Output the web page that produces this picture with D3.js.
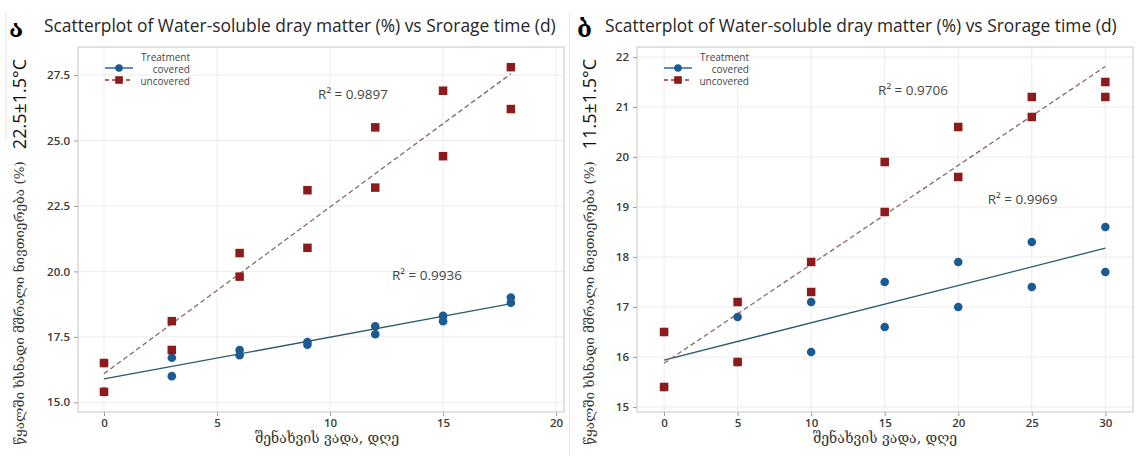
<!DOCTYPE html>
<html><head><meta charset="utf-8">
<script src="https://cdn.jsdelivr.net/npm/d3@7/dist/d3.min.js"></script>
<style>
html,body{margin:0;padding:0;background:#fff;}
svg{display:block;}
</style></head>
<body>
<svg id="c" width="1136" height="461"></svg>
<script>
// ---------- DATA ----------
const titleText = "Scatterplot of Water-soluble dray matter (%) vs Srorage time (d)";
const panelLetters = ["ა", "ბ"];
const temperatures = ["22.5±1.5°C", "11.5±1.5°C"];
const yAxisLabel = "წყალში ხსნადი მშრალი ნივთიერება (%)";
const xAxisLabel = "შენახვის ვადა, დღე";
const legendTitle = "Treatment";
const seriesNames = ["covered", "uncovered"];

// Panel ა (22.5°C)
const daysA = [0, 3, 6, 9, 12, 15, 18];
const coveredA_rep1 = [16.5, 16.7, 17.0, 17.3, 17.9, 18.3, 19.0];
const coveredA_rep2 = [15.4, 16.0, 16.8, 17.2, 17.6, 18.1, 18.8];
const uncoveredA_rep1 = [16.5, 18.1, 20.7, 23.1, 25.5, 26.9, 27.8];
const uncoveredA_rep2 = [15.4, 17.0, 19.8, 20.9, 23.2, 24.4, 26.2];
const xTicksA = [0, 5, 10, 15, 20];
const yTicksA = [15.0, 17.5, 20.0, 22.5, 25.0, 27.5];
const r2LabelsA = ["R² = 0.9897", "R² = 0.9936"]; // uncovered, covered
const r2AnchorsA = [[9.47, 26.77], [12.74, 19.86]];

// Panel ბ (11.5°C)
const daysB = [0, 5, 10, 15, 20, 25, 30];
const coveredB_rep1 = [16.5, 16.8, 17.1, 17.5, 17.9, 18.3, 18.6];
const coveredB_rep2 = [15.4, 15.9, 16.1, 16.6, 17.0, 17.4, 17.7];
const uncoveredB_rep1 = [16.5, 17.1, 17.9, 19.9, 20.6, 21.2, 21.5];
const uncoveredB_rep2 = [15.4, 15.9, 17.3, 18.9, 19.6, 20.8, 21.2];
const xTicksB = [0, 5, 10, 15, 20, 25, 30];
const yTicksB = [15, 16, 17, 18, 19, 20, 21, 22];
const r2LabelsB = ["R² = 0.9706", "R² = 0.9969"];
const r2AnchorsB = [[14.55, 21.33], [22.0, 19.15]];

// ---------- STYLE ----------
const C_COV_PT = "#1b5b94";
const C_COV_LN = "#2a5a66";
const C_UNC_PT = "#8c1c1c";
const C_UNC_LN = "#8a6868";
const C_FRAME = "#cfcfcf";
const C_GRID = "#ececec";
const C_TICK = "#3a3a3a";
const SANS = "'Open Sans', 'Noto Sans', 'DejaVu Sans', sans-serif";
const GEO = "'DejaVu Serif', 'DejaVu Sans', serif";

const svg = d3.select("#c");

// faint page-edge lines from the composed figure
svg.append("line").attr("x1", 6).attr("x2", 6).attr("y1", 12).attr("y2", 138)
  .attr("stroke", "#e2e2e2").attr("stroke-width", 1);
svg.append("line").attr("x1", 569.5).attr("x2", 569.5).attr("y1", 12).attr("y2", 455)
  .attr("stroke", "#e6e6e6").attr("stroke-width", 1);

function fit(xs, ys) {
  const mx = d3.mean(xs), my = d3.mean(ys);
  let sxy = 0, sxx = 0;
  xs.forEach((x, i) => { sxy += (x - mx) * (ys[i] - my); sxx += (x - mx) * (x - mx); });
  const b = sxy / sxx;
  return { a: my - b * mx, b };
}

function panel(cfg) {
  const g = svg.append("g");
  const { L, T, R, B } = cfg.frame;
  const x = d3.scaleLinear().domain(cfg.xDom).range([L, R]);
  const y = d3.scaleLinear().domain(cfg.yDom).range([B, T]);

  // grid
  g.append("g").selectAll("line").data(cfg.xTicks).join("line")
    .attr("x1", d => x(d)).attr("x2", d => x(d)).attr("y1", T).attr("y2", B)
    .attr("stroke", C_GRID).attr("stroke-width", 1);
  g.append("g").selectAll("line").data(cfg.yTicks).join("line")
    .attr("y1", d => y(d)).attr("y2", d => y(d)).attr("x1", L).attr("x2", R)
    .attr("stroke", C_GRID).attr("stroke-width", 1);

  // axes
  const xa = g.append("g").attr("transform", `translate(0,${B})`)
    .call(d3.axisBottom(x).tickValues(cfg.xTicks).tickSize(4).tickPadding(3).tickFormat(d3.format("d")));
  const ya = g.append("g").attr("transform", `translate(${L},0)`)
    .call(d3.axisLeft(y).tickValues(cfg.yTicks).tickSize(4).tickPadding(4).tickFormat(d3.format(cfg.yFmt)));
  [xa, ya].forEach(a => {
    a.select(".domain").remove();
    a.selectAll(".tick line").attr("stroke", "#999");
    a.selectAll(".tick text").attr("fill", C_TICK).style("font-family", SANS)
      .style("font-size", "11.5px").style("font-weight", "600");
  });

  // frame
  g.append("rect").attr("x", L).attr("y", T).attr("width", R - L).attr("height", B - T)
    .attr("fill", "none").attr("stroke", C_FRAME).attr("stroke-width", 1.2);

  // regression lines
  const allX = cfg.days.concat(cfg.days);
  const cov = cfg.cov[0].concat(cfg.cov[1]);
  const unc = cfg.unc[0].concat(cfg.unc[1]);
  const fc = fit(allX, cov), fu = fit(allX, unc);
  const x0 = d3.min(cfg.days), x1 = d3.max(cfg.days);
  g.append("line").attr("x1", x(x0)).attr("x2", x(x1))
    .attr("y1", y(fc.a + fc.b * x0)).attr("y2", y(fc.a + fc.b * x1))
    .attr("stroke", C_COV_LN).attr("stroke-width", 1.3);
  g.append("line").attr("x1", x(x0)).attr("x2", x(x1))
    .attr("y1", y(fu.a + fu.b * x0)).attr("y2", y(fu.a + fu.b * x1))
    .attr("stroke", C_UNC_LN).attr("stroke-width", 1.3).attr("stroke-dasharray", "5,3");

  // points: covered circles then uncovered squares
  const covPts = [], uncPts = [];
  cfg.days.forEach((d, i) => {
    covPts.push([d, cfg.cov[0][i]], [d, cfg.cov[1][i]]);
    uncPts.push([d, cfg.unc[0][i]], [d, cfg.unc[1][i]]);
  });
  g.append("g").selectAll("circle").data(covPts).join("circle")
    .attr("cx", d => x(d[0])).attr("cy", d => y(d[1])).attr("r", 4.3).attr("fill", C_COV_PT);
  const s = 8.5;
  g.append("g").selectAll("rect").data(uncPts).join("rect")
    .attr("x", d => x(d[0]) - s / 2).attr("y", d => y(d[1]) - s / 2)
    .attr("width", s).attr("height", s).attr("fill", C_UNC_PT);

  // R² labels
  cfg.r2.forEach((t, i) => {
    const a = cfg.r2At[i];
    g.append("text").attr("x", x(a[0])).attr("y", y(a[1])).attr("dy", "0.35em")
      .attr("fill", "#444").style("font-family", SANS).style("font-size", "13.5px").text(t);
  });

  // legend
  const lg = g.append("g").attr("transform", `translate(${L},${T})`);
  lg.append("text").attr("x", 112).attr("y", 10).attr("dy", "0.35em").attr("text-anchor", "end")
    .attr("fill", "#444").style("font-family", SANS).style("font-size", "10px").text(legendTitle);
  lg.append("line").attr("x1", 27).attr("x2", 55).attr("y1", 21).attr("y2", 21)
    .attr("stroke", "#2a6aa0").attr("stroke-width", 1.5);
  lg.append("circle").attr("cx", 41).attr("cy", 21).attr("r", 3.8).attr("fill", C_COV_PT);
  lg.append("text").attr("x", 112).attr("y", 22).attr("dy", "0.35em").attr("text-anchor", "end")
    .attr("fill", "#444").style("font-family", SANS).style("font-size", "10px").text(seriesNames[0]);
  lg.append("line").attr("x1", 27).attr("x2", 55).attr("y1", 33).attr("y2", 33)
    .attr("stroke", "#a03030").attr("stroke-width", 1.5).attr("stroke-dasharray", "4,3");
  lg.append("rect").attr("x", 41 - 3.8).attr("y", 33 - 3.8).attr("width", 7.6).attr("height", 7.6).attr("fill", C_UNC_PT);
  lg.append("text").attr("x", 112).attr("y", 34).attr("dy", "0.35em").attr("text-anchor", "end")
    .attr("fill", "#444").style("font-family", SANS).style("font-size", "10px").text(seriesNames[1]);

  // title — font size fitted so the natural width is ~512px
  const tt = g.append("text").attr("x", cfg.titleX).attr("y", 32).attr("fill", "#262626")
    .style("font-family", SANS).style("font-size", "19px").style("font-weight", "500").text(titleText);
  const w = tt.node().getComputedTextLength();
  tt.style("font-size", (19 * 512 / w).toFixed(2) + "px");
  // panel letter
  g.append("text").attr("x", cfg.letterX).attr("y", 37).attr("fill", "#000")
    .style("font-family", GEO).style("font-size", "24px").style("font-weight", "bold").text(cfg.letter);

  // temperature (rotated)
  g.append("text").attr("transform", `translate(${cfg.sideX},104) rotate(-90)`)
    .attr("text-anchor", "middle").attr("dy", "0.35em").attr("fill", "#111")
    .style("font-family", SANS).style("font-size", "18px").text(cfg.temp);
  // y label
  g.append("text").attr("transform", `translate(${cfg.sideX - 1},${cfg.yLabelY}) rotate(-90)`)
    .attr("text-anchor", "middle").attr("dy", "0.35em").attr("fill", "#333")
    .style("font-family", GEO).style("font-size", "13.5px").text(yAxisLabel);
  // x label
  g.append("text").attr("x", (L + R) / 2 + cfg.xLabelShift).attr("y", 443)
    .attr("text-anchor", "middle").attr("fill", "#333")
    .style("font-family", GEO).style("font-size", "14px").text(xAxisLabel);
}

panel({
  frame: { L: 78, T: 47, R: 564, B: 412 },
  xDom: [-1.15, 20.35], yDom: [14.63, 28.57],
  xTicks: xTicksA, yTicks: yTicksA, yFmt: ".1f",
  days: daysA, cov: [coveredA_rep1, coveredA_rep2], unc: [uncoveredA_rep1, uncoveredA_rep2],
  r2: r2LabelsA, r2At: r2AnchorsA,
  titleX: 44, letterX: 9, letter: panelLetters[0], temp: temperatures[0],
  sideX: 20, yLabelY: 303, xLabelShift: 6
});
panel({
  frame: { L: 637, T: 47, R: 1133, B: 412 },
  xDom: [-1.84, 31.88], yDom: [14.9, 22.2],
  xTicks: xTicksB, yTicks: yTicksB, yFmt: "d",
  days: daysB, cov: [coveredB_rep1, coveredB_rep2], unc: [uncoveredB_rep1, uncoveredB_rep2],
  r2: r2LabelsB, r2At: r2AnchorsB,
  titleX: 605, letterX: 577, letter: panelLetters[1], temp: temperatures[1],
  sideX: 590, yLabelY: 303, xLabelShift: 0
});
</script>
</body></html>
